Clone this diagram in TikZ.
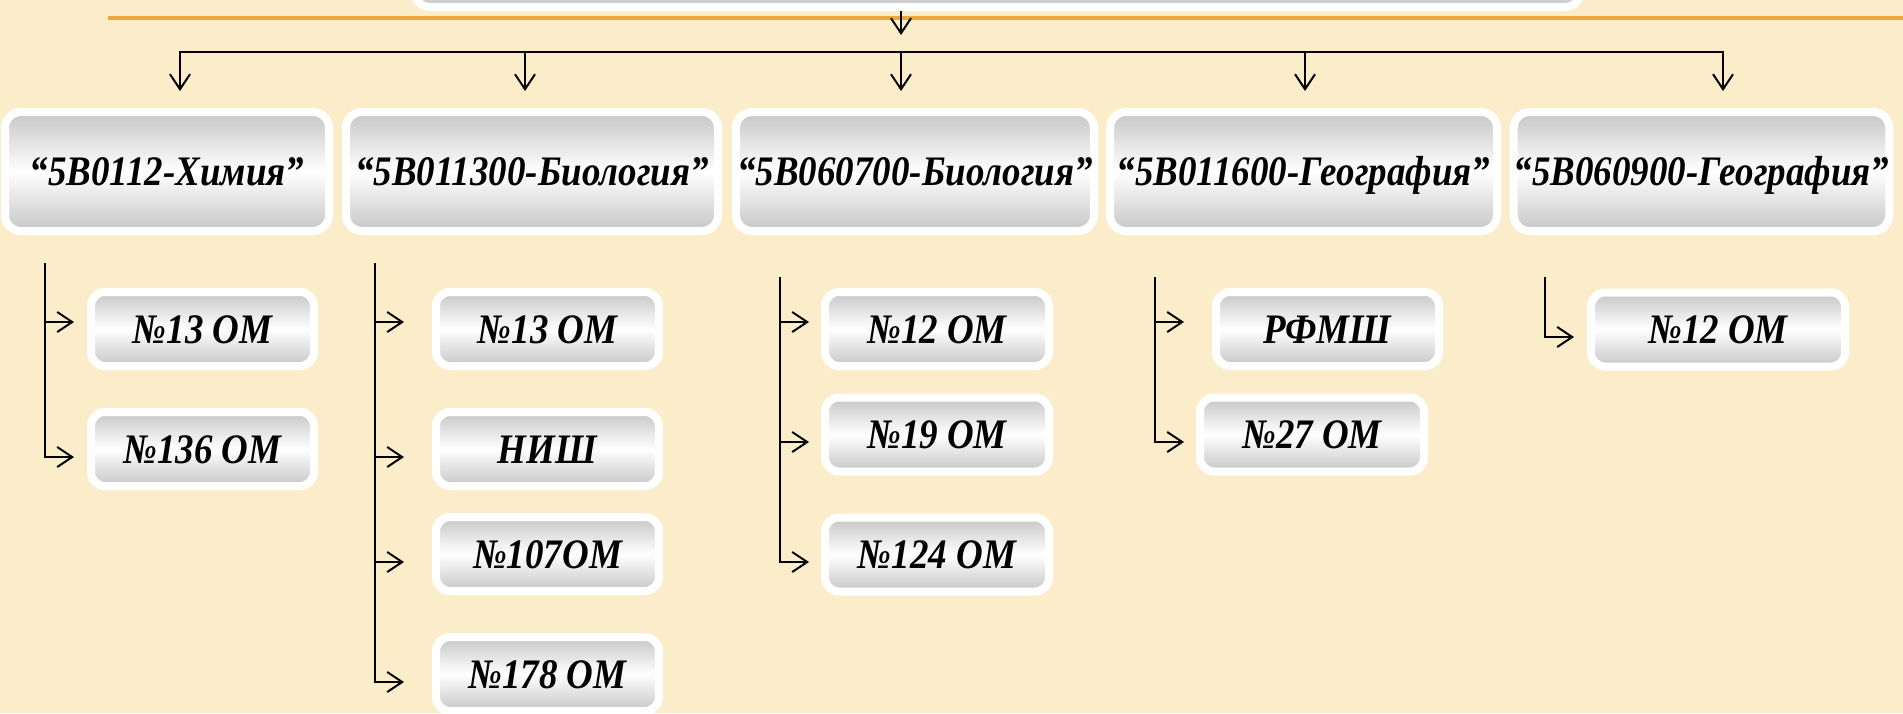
\documentclass[tikz,border=0pt]{standalone}
\usepackage{fontspec}
\newfontfamily\boxfont{Liberation Serif}[FakeStretch=0.88]
\usetikzlibrary{arrows.meta,calc}
\definecolor{bg}{RGB}{251,237,201}
\definecolor{orangeline}{RGB}{240,165,55}
\definecolor{boxgray}{RGB}{198,198,198}
\tikzset{
  box/.style={draw=white, line width=8pt, rounded corners=16pt,
    top color=boxgray, bottom color=boxgray, middle color=white,
    inner xsep=0pt, inner ysep=0pt, text height=28pt, text depth=0pt,
    font={\boxfont\fontsize{42}{48}\selectfont\bfseries\itshape}},
  big/.style={box, minimum width=#1, minimum height=119pt},
  small/.style={box, minimum width=#1, minimum height=74pt, rounded corners=14pt},
  conn/.style={line width=2pt, -{Straight Barb[length=15pt,width=20pt]}},
  bus/.style={line width=2pt}
}
\begin{document}
\begin{tikzpicture}[x=1pt,y=-1pt]
\useasboundingbox (0,0) rectangle (1903,713);
\clip (0,0) rectangle (1903,713);
\fill[bg] (0,0) rectangle (1903,713);

% top (cut-off) box
\node[box, minimum width=1167pt, minimum height=100pt] (TOP) at (997.5,-43) {};
\draw[orangeline, line width=4pt] (108,18) -- (1903,18);
\coordinate (ta) at (901,11);
\coordinate (tb) at (901,35);
\draw[conn] (ta) -- (tb);

% level 2 boxes
\node[big=324pt] (B1) at (167,171.5) {“5B0112-Химия”};
\node[big=372pt] (B2) at (532,171.5) {“5B011300-Биология”};
\node[big=358pt] (B3) at (915,171.5) {“5B060700-Биология”};
\node[big=387pt] (B4) at (1303.5,171.5) {“5B011600-География”};
\node[big=373pt] (B5) at (1701.5,171.5) {“5B060900-География”};

% bus
\coordinate (j1) at (180,52);
\coordinate (j2) at (525,52);
\coordinate (j3) at (901,52);
\coordinate (j4) at (1305,52);
\coordinate (j5) at (1723,52);
\draw[bus, line cap=rect] (j1) -- (j5);
\draw[conn] (j1) -- ($(j1 |- B1.north)+(0,-17)$);
\draw[conn] (j2) -- ($(j2 |- B2.north)+(0,-17)$);
\draw[conn] (j3) -- ($(j3 |- B3.north)+(0,-17)$);
\draw[conn] (j4) -- ($(j4 |- B4.north)+(0,-17)$);
\draw[conn] (j5) -- ($(j5 |- B5.north)+(0,-17)$);

% level 3 boxes
\node[small=223pt] (A11) at (202.5,329) {№13 ОМ};
\node[small=223pt] (A12) at (202.5,449) {№136 ОМ};

\node[small=223pt] (A21) at (547.5,329) {№13 ОМ};
\node[small=223pt] (A22) at (547.5,449) {НИШ};
\node[small=223pt] (A23) at (547.5,554) {№107ОМ};
\node[small=223pt] (A24) at (547.5,674) {№178 ОМ};

\node[small=224pt] (A31) at (937,329) {№12 ОМ};
\node[small=224pt] (A32) at (937,434.5) {№19 ОМ};
\node[small=224pt] (A33) at (937,554.5) {№124 ОМ};

\node[small=223pt] (A41) at (1327.5,329) {РФМШ};
\node[small=224pt] (A42) at (1312,434.5) {№27 ОМ};

\node[small=254pt] (A51) at (1718,329.5) {№12 ОМ};

% column connectors
\coordinate (s1) at (45,263);   \coordinate (t1) at (74,263);
\coordinate (s2) at (375,263);  \coordinate (t2) at (404,263);
\coordinate (s3) at (780,277);  \coordinate (t3) at (809,277);
\coordinate (s4) at (1155,277); \coordinate (t4) at (1184,277);
\coordinate (s5) at (1545,277); \coordinate (t5) at (1574,277);

\draw[conn] (s1) |- ($(A11.west -| t1)+(0,-7)$);
\draw[conn] (s1) |- ($(A12.west -| t1)+(0,8)$);

\draw[conn] (s2) |- ($(A21.west -| t2)+(0,-7)$);
\draw[conn] (s2) |- ($(A22.west -| t2)+(0,8)$);
\draw[conn] (s2) |- ($(A23.west -| t2)+(0,8)$);
\draw[conn] (s2) |- ($(A24.west -| t2)+(0,8)$);

\draw[conn] (s3) |- ($(A31.west -| t3)+(0,-7)$);
\draw[conn] (s3) |- ($(A32.west -| t3)+(0,7.5)$);
\draw[conn] (s3) |- ($(A33.west -| t3)+(0,7.5)$);

\draw[conn] (s4) |- ($(A41.west -| t4)+(0,-7)$);
\draw[conn] (s4) |- ($(A42.west -| t4)+(0,7.5)$);

\draw[conn] (s5) |- ($(A51.west -| t5)+(0,7.5)$);
\end{tikzpicture}
\end{document}
